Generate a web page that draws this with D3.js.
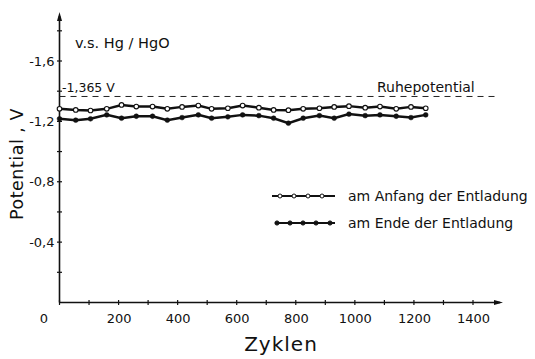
<!DOCTYPE html>
<html>
<head>
<meta charset="utf-8">
<script src="https://cdn.jsdelivr.net/npm/d3@7"></script>
<style>
  body { margin: 0; background: #fff; }
  svg { display: block; }
  text { font-family: "DejaVu Sans", sans-serif; fill: #111; }
</style>
</head>
<body>
<svg id="chart"></svg>
<script>
// data (potential in V vs. Hg/HgO)
var cycles = [0, 55, 105, 160, 210, 260, 315, 365, 415, 470, 515, 570, 620,
              675, 725, 775, 825, 880, 930, 980, 1035, 1085, 1140, 1190, 1240];
var anfang = [-1.283, -1.276, -1.272, -1.283, -1.309, -1.298, -1.298, -1.283, -1.296, -1.305, -1.283, -1.287, -1.305,
              -1.291, -1.276, -1.274, -1.283, -1.287, -1.296, -1.301, -1.291, -1.298, -1.283, -1.296, -1.287];
var ende = [-1.217, -1.208, -1.217, -1.243, -1.221, -1.234, -1.234, -1.208, -1.225, -1.243, -1.221, -1.230, -1.243,
            -1.238, -1.221, -1.188, -1.221, -1.238, -1.221, -1.248, -1.238, -1.243, -1.234, -1.225, -1.243];
var ruhepotential = -1.365;
var xTicks = [0, 200, 400, 600, 800, 1000, 1200, 1400];
var xMinor = [100, 300, 500, 700, 900, 1100, 1300];
var yTicks = [-0.4, -0.8, -1.2, -1.6];
var yMinor = [-0.2, -0.6, -1.0, -1.4, -1.8];
var legendItems = ["am Anfang der Entladung", "am Ende der Entladung"];

var width = 535, height = 359;

var svg = d3.select("#chart")
  .attr("width", width)
  .attr("height", height);

var x = d3.scaleLinear().domain([0, 1400]).range([59.5, 473]);
var y = d3.scaleLinear().domain([0, -1.6]).range([302.5, 61]);

var fmt = function(d) { return d === 0 ? "0" : ("-" + Math.abs(d).toFixed(1).replace(".", ",")); };

// axes
var xAxis = svg.append("g")
  .attr("transform", "translate(0," + y(0) + ")")
  .call(d3.axisBottom(x).tickValues(xTicks).tickSize(0).tickPadding(11).tickFormat(function(d) { return d; }));
xAxis.select(".domain").remove();
xAxis.selectAll("text").style("font-size", "13px");
xAxis.selectAll(".tick").filter(function(d) { return d === 0; }).select("text").attr("x", -16);

var yAxis = svg.append("g")
  .attr("transform", "translate(" + x(0) + ",0)")
  .call(d3.axisLeft(y).tickValues(yTicks).tickSize(0).tickPadding(5).tickFormat(fmt));
yAxis.select(".domain").remove();
yAxis.selectAll("text").style("font-size", "13px");

// axis lines with arrows
svg.append("line")
  .attr("x1", x(0)).attr("x2", 500)
  .attr("y1", y(0)).attr("y2", y(0))
  .attr("stroke", "#111").attr("stroke-width", 1.6);
svg.append("path")
  .attr("d", "M" + 503 + "," + y(0) + "l-9,-2.5l0,5z")
  .attr("fill", "#111");
svg.append("line")
  .attr("x1", x(0)).attr("x2", x(0))
  .attr("y1", y(0)).attr("y2", 16)
  .attr("stroke", "#111").attr("stroke-width", 1.6);
svg.append("path")
  .attr("d", "M" + x(0) + ",12l-2.5,9l5,0z")
  .attr("fill", "#111");

// tick marks
svg.append("g").selectAll("line")
  .data(xTicks.concat(xMinor))
  .enter().append("line")
  .attr("x1", function(d) { return x(d); }).attr("x2", function(d) { return x(d); })
  .attr("y1", y(0) - 2.5).attr("y2", y(0) + 2.5)
  .attr("stroke", "#111").attr("stroke-width", 1.2);
svg.append("g").selectAll("line")
  .data(yTicks.concat(yMinor))
  .enter().append("line")
  .attr("x1", x(0) - 2.5).attr("x2", x(0) + 2.5)
  .attr("y1", function(d) { return y(d); }).attr("y2", function(d) { return y(d); })
  .attr("stroke", "#111").attr("stroke-width", 1.2);

// axis titles
svg.append("text")
  .attr("x", 281).attr("y", 351)
  .attr("text-anchor", "middle")
  .style("font-size", "20px")
  .style("letter-spacing", "1px")
  .text("Zyklen");
svg.append("text")
  .attr("transform", "translate(23,164) rotate(-90)")
  .attr("text-anchor", "middle")
  .style("font-size", "17.5px")
  .style("letter-spacing", "0.5px")
  .text("Potential , V");

svg.append("text")
  .attr("x", 75).attr("y", 48)
  .style("font-size", "14.5px")
  .text("v.s. Hg / HgO");

// rest potential
svg.append("line")
  .attr("x1", x(0)).attr("x2", 496)
  .attr("y1", y(ruhepotential)).attr("y2", y(ruhepotential))
  .attr("stroke", "#222").attr("stroke-width", 1)
  .attr("stroke-dasharray", "6,5");
svg.append("text")
  .attr("x", 62).attr("y", y(ruhepotential) - 4)
  .style("font-size", "12.5px")
  .text("-1,365 V");
svg.append("text")
  .attr("x", 377).attr("y", y(ruhepotential) - 4)
  .style("font-size", "14px")
  .text("Ruhepotential");

// series
var line = d3.line()
  .x(function(d) { return x(d[0]); })
  .y(function(d) { return y(d[1]); });

function drawSeries(values, open) {
  var pts = cycles.map(function(c, i) { return [c, values[i]]; });
  var g = svg.append("g");
  g.append("path")
    .datum(pts)
    .attr("d", line)
    .attr("fill", "none")
    .attr("stroke", "#111")
    .attr("stroke-width", 2.5);
  g.selectAll("circle")
    .data(pts)
    .enter().append("circle")
    .attr("cx", function(d) { return x(d[0]); })
    .attr("cy", function(d) { return y(d[1]); })
    .attr("r", open ? 2.3 : 2.4)
    .attr("fill", open ? "#fff" : "#111")
    .attr("stroke", "#111")
    .attr("stroke-width", open ? 1.1 : 0.5);
}
drawSeries(anfang, true);
drawSeries(ende, false);

// legend
var legend = svg.append("g").selectAll("g")
  .data(legendItems)
  .enter().append("g")
  .attr("transform", function(d, i) { return "translate(0," + (196 + i * 27) + ")"; });
legend.append("line")
  .attr("x1", function(d, i) { return i === 0 ? 272 : 275; })
  .attr("x2", 335)
  .attr("stroke", "#111").attr("stroke-width", 2.2);
legend.each(function(d, i) {
  var xs = i === 0 ? [280, 294, 308, 322] : [277, 290, 303, 316, 330];
  d3.select(this).selectAll("circle")
    .data(xs)
    .enter().append("circle")
    .attr("cx", function(v) { return v; })
    .attr("cy", 0)
    .attr("r", i === 0 ? 2 : 2.1)
    .attr("fill", i === 0 ? "#fff" : "#111")
    .attr("stroke", "#111")
    .attr("stroke-width", 1);
});
legend.append("text")
  .attr("x", 348).attr("y", 5)
  .style("font-size", "14px")
  .text(function(d) { return d; });
</script>
</body>
</html>
